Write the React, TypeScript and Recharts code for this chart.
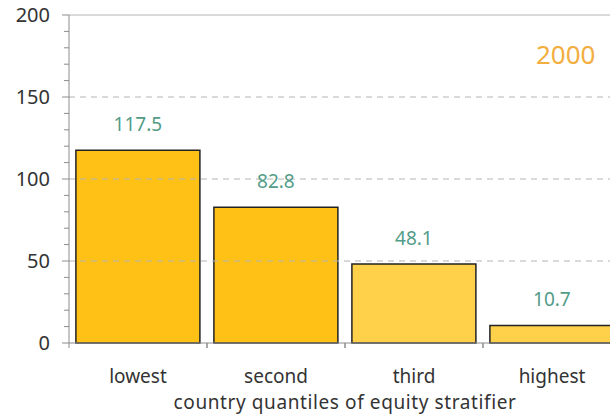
import React from "react";
import {
  BarChart,
  Bar,
  Cell,
  XAxis,
  YAxis,
  LabelList,
  ReferenceLine,
} from "recharts";

const quantiles = ["lowest", "second", "third", "highest"];
const values = [117.5, 82.8, 48.1, 10.7];
const barColors = ["#FFC116", "#FFC116", "#FFD04A", "#FFD04A"];
const yTicks = [0, 10, 20, 30, 40, 50, 60, 70, 80, 90, 100, 110, 120, 130, 140, 150, 160, 170, 180, 190, 200];
const majorTicks = [0, 50, 100, 150, 200];
const dashedGrid = [50, 100, 150];
const yearLabel = "2000";
const axisTitle = "country quantiles of equity stratifier";

const CHART_W = 640;
const CHART_H = 416;
const MARGIN = { top: 15, right: 19, bottom: 0, left: 0 };
const Y_AXIS_W = 69;
const X_AXIS_H = 73;
const FONT = "'Noto Sans', 'Open Sans', sans-serif";

const data = quantiles.map((q, i) => ({ name: q, value: values[i] }));
const bandSize = (CHART_W - MARGIN.left - MARGIN.right - Y_AXIS_W) / quantiles.length;

function YTick(props: any) {
  const { x, y, payload } = props;
  const major = majorTicks.includes(payload.value);
  return (
    <g>
      <line x1={x - (major ? 7 : 5)} x2={x} y1={y} y2={y} stroke="#8c8c8c" strokeWidth={1} />
      {major && (
        <text
          x={x - 19}
          y={y}
          dy="0.36em"
          textAnchor="end"
          fill="#333"
          fontSize={20}
          fontFamily={FONT}
        >
          {payload.value}
        </text>
      )}
    </g>
  );
}

function XTick(props: any) {
  const { x, y, payload } = props;
  const left = x - bandSize / 2;
  return (
    <g>
      <line x1={left} x2={left} y1={y} y2={y + 5} stroke="#8c8c8c" strokeWidth={1} />
      <line x1={left + bandSize} x2={left + bandSize} y1={y} y2={y + 5} stroke="#8c8c8c" strokeWidth={1} />
      <text
        x={x}
        y={y + 33}
        dy="0.36em"
        textAnchor="middle"
        fill="#333"
        fontSize={19}
        fontFamily={FONT}
      >
        {payload.value}
      </text>
    </g>
  );
}

export default function App() {
  return (
    <div
      style={{
        position: "absolute",
        left: 0,
        top: 0,
        width: 610,
        height: 416,
        overflow: "hidden",
        background: "#fff",
      }}
    >
      <BarChart width={CHART_W} height={CHART_H} data={data} margin={MARGIN} barCategoryGap="5%">
        {dashedGrid.map((v) => (
          <ReferenceLine key={v} y={v} stroke="#b4b4b4" strokeDasharray="6 5" />
        ))}
        <ReferenceLine y={200} stroke="#b4b4b4" />
        <XAxis
          dataKey="name"
          height={X_AXIS_H}
          axisLine={{ stroke: "#8c8c8c" }}
          tickLine={false}
          tickSize={0}
          tickMargin={0}
          tick={<XTick />}
          interval={0}
          label={{
            value: axisTitle,
            position: "insideBottom",
            offset: 7,
            fill: "#333",
            fontSize: 19,
            fontFamily: FONT,
            letterSpacing: 0.6,
          }}
        />
        <YAxis
          width={Y_AXIS_W}
          domain={[0, 200]}
          ticks={yTicks}
          interval={0}
          axisLine={{ stroke: "#8c8c8c" }}
          tickLine={false}
          tickSize={0}
          tickMargin={0}
          tick={<YTick />}
        />
        <Bar dataKey="value" stroke="#222" strokeWidth={1.5} isAnimationActive={false}>
          {data.map((d, i) => (
            <Cell key={d.name} fill={barColors[i]} />
          ))}
          <LabelList
            dataKey="value"
            position="top"
            offset={19}
            fill="#529c88"
            fontSize={19}
            fontFamily={FONT}
            formatter={(v: any) => Number(v).toFixed(1)}
          />
        </Bar>
      </BarChart>
      <div
        style={{
          position: "absolute",
          left: 536,
          top: 38,
          fontFamily: FONT,
          fontSize: 26,
          color: "#F2AE3E",
          lineHeight: "32px",
        }}
      >
        {yearLabel}
      </div>
    </div>
  );
}
